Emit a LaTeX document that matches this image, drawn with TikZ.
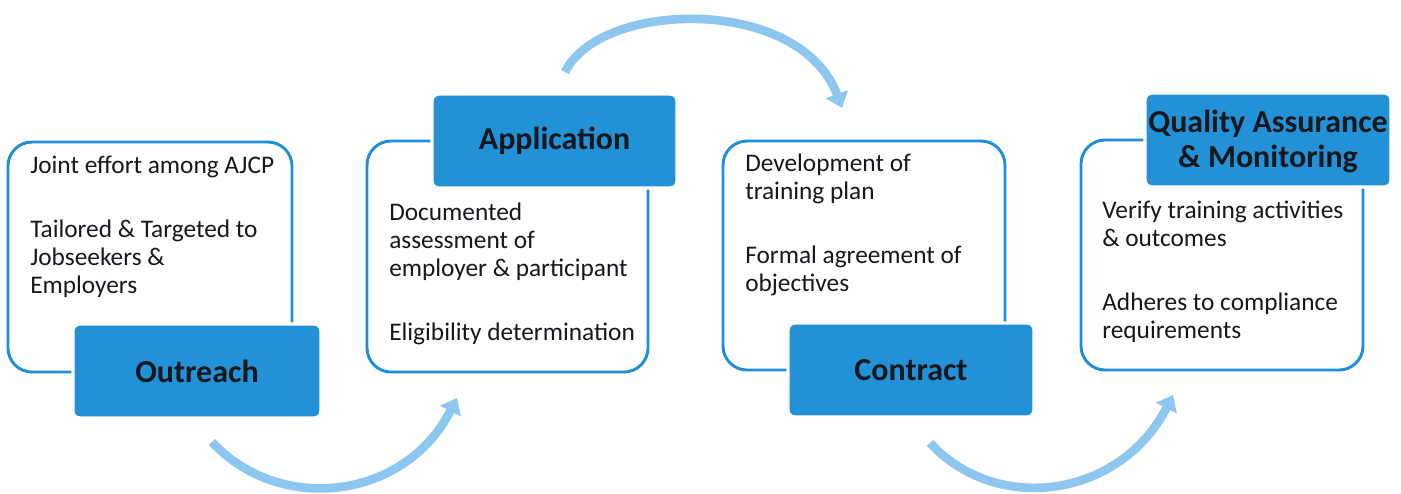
\documentclass[tikz,border=0pt]{standalone}
\usepackage{fontspec}
\setmainfont{Carlito}
\usetikzlibrary{arrows.meta,fit}

\definecolor{frameblue}{RGB}{30,142,216}
\definecolor{tabblue}{RGB}{34,145,214}
\definecolor{flowblue}{RGB}{141,199,239}
\definecolor{inkdark}{RGB}{22,24,30}

\newcommand\panelfont{\fontsize{19}{21}\selectfont}
\newcommand\tabfont{\fontsize{24}{26}\selectfont\bfseries}

\tikzset{
  panel/.style={draw=frameblue, line width=2.2pt, rounded corners=18pt, inner sep=0pt},
  tab/.style={fill=tabblue, draw=white, line width=2.5pt, rounded corners=5pt, inner sep=0pt},
  tabtext/.style={font=\tabfont, text=inkdark, align=center, inner sep=0pt},
  % base anchor of a multi-line node sits on its last line
  body/.style={anchor=base west, align=left, font=\panelfont, text=inkdark, inner sep=0pt},
  flow/.style={draw=flowblue, line width=6.5pt, -{Triangle[width=17pt,length=11pt]}}
}

\begin{document}
\begin{tikzpicture}[x=0.75pt, y=-0.75pt]
  \useasboundingbox[fill=white] (0,0) rectangle (1401,493);

  % outlined panels
  \node[panel, fit={(8,142) (292,372)}]    (p1) {};
  \node[panel, fit={(367,141) (648,372)}]  (p2) {};
  \node[panel, fit={(723,141) (1005,370)}] (p3) {};
  \node[panel, fit={(1081,140) (1363,370)}] (p4) {};

  % filled title tabs
  \node[tab, fit={(73,324) (321,418)}]    (t1) {};
  \node[tab, fit={(432,94) (677,188)}]    (t2) {};
  \node[tab, fit={(788,323) (1034,417)}]  (t3) {};
  \node[tab, fit={(1145,93) (1391,187)}]  (t4) {};

  \node[tabtext] (h1) at (t1.center) {Outreach};
  \node[tabtext] (h2) at (t2.center) {Application};
  \node[tabtext] (h3) at (t3.center) {Contract};
  \node[tabtext] (h4) at ([yshift=-1pt]t4.center) {Quality Assurance\\\& Monitoring};

  % panel texts
  \node[body] (b1) at (30,293) {Joint effort among AJCP\\[27pt]Tailored \& Targeted to\\Jobseekers \&\\Employers};
  \node[body] (b2) at (389,340) {Documented\\assessment of\\employer \& participant\\[27pt]Eligibility determination};
  \node[body] (b3) at (745,291) {Development of\\training plan\\[27pt]Formal agreement of\\objectives};
  \node[body] (b4) at (1102,338) {Verify training activities\\\& outcomes\\[27pt]Adheres to compliance\\requirements};

  % flow arrows between stages
  \coordinate (f1s) at (212,442);  \coordinate (f1e) at (457,398);
  \coordinate (f2s) at (565,72);   \coordinate (f2e) at (842,108);
  \coordinate (f3s) at (930,443);  \coordinate (f3e) at (1173,395);

  \draw[flow] (f1s) .. controls (280,515) and (405,500) .. (f1e);
  \draw[flow] (f2s) .. controls (600,0) and (800,-5) .. (f2e);
  \draw[flow] (f3s) .. controls (998,516) and (1121,497) .. (f3e);
\end{tikzpicture}
\end{document}
